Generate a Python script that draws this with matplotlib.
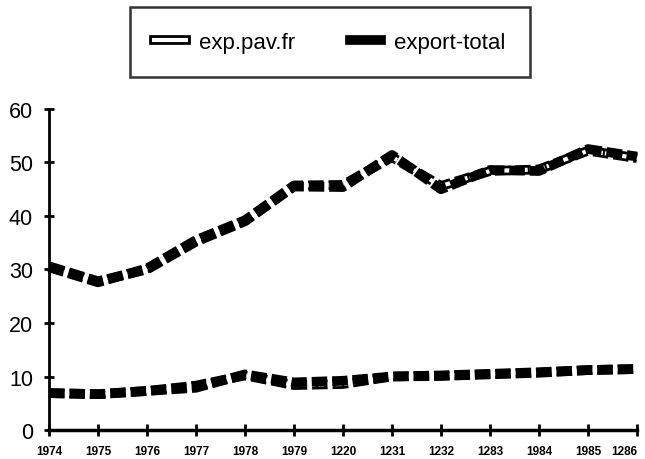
import matplotlib
matplotlib.use("Agg")
import matplotlib.pyplot as plt
from matplotlib.lines import Line2D

plt.rcParams['font.family'] = ['Liberation Sans', 'DejaVu Sans']

# data
years = [1974, 1975, 1976, 1977, 1978, 1979, 1980, 1981, 1982, 1983, 1984, 1985, 1986]
year_labels = ['1974', '1975', '1976', '1977', '1978', '1979', '1220',
               '1231', '1232', '1283', '1984', '1985', '1286']

# upper pair
export_total_hi = [30.6, 27.8, 30.0, 35.2, 39.0, 45.5, 45.4, 51.4, 45.0, 48.6, 48.4, 52.5, 51.1]
exp_pav_hi = [30.4, 27.6, 30.2, 35.5, 39.2, 45.7, 45.8, 51.0, 45.6, 48.4, 48.7, 52.2, 50.8]
# lower pair
export_total_lo = [6.9, 6.7, 7.3, 7.9, 10.4, 8.9, 9.2, 10.0, 10.1, 10.4, 10.7, 11.2, 11.4]
exp_pav_lo = [6.9, 6.7, 7.3, 8.3, 10.2, 8.4, 8.6, 10.0, 10.2, 10.5, 10.8, 11.2, 11.4]

fig = plt.figure(figsize=(6.45, 4.6), dpi=100)
ax = fig.add_axes([0.076, 0.063, 0.9116, 0.698])

dash = (1.6, 0.5)


def draw_open(x, y):
    # open (hatched) band: black outline with white inside
    ax.plot(x, y, color='black', lw=7, dashes=dash, dash_capstyle='butt',
            clip_on=False, zorder=3)
    ax.plot(x, y, color='white', lw=3, dashes=dash, dash_capstyle='butt',
            clip_on=False, zorder=3.1)


def draw_dark(x, y):
    ax.plot(x, y, color='black', lw=7, dashes=dash, dash_capstyle='butt',
            clip_on=False, zorder=4)


for ys in (exp_pav_hi, exp_pav_lo):
    draw_open(years, ys)
for ys in (export_total_hi, export_total_lo):
    draw_dark(years, ys)

ax.set_xlim(1974, 1986)
ax.set_ylim(0, 60)
ax.set_xticks(years)
ax.set_xticklabels(year_labels, fontsize=8.5, fontweight='bold')
ax.get_xticklabels()[-1].set_horizontalalignment('right')
ax.set_yticks([0, 10, 20, 30, 40, 50, 60])
ax.tick_params(axis='y', labelsize=15.5, direction='inout', length=7, width=2, pad=8)
ax.tick_params(axis='x', direction='inout', length=9, width=2, pad=6)

for s in ('top', 'right'):
    ax.spines[s].set_visible(False)
ax.spines['left'].set_linewidth(2)
ax.spines['bottom'].set_linewidth(2.5)

# legend
handles = [
    (Line2D([], [], color='black', lw=7), Line2D([], [], color='white', lw=3)),
    Line2D([], [], color='black', lw=7),
]
leg = fig.legend(handles, ['exp.pav.fr', 'export-total'], loc='center',
                 bbox_to_anchor=(0.2016, 0.830, 0.62, 0.153), mode='expand',
                 ncol=2, fontsize=16, frameon=True, fancybox=False,
                 edgecolor='black', handlelength=1.4, handletextpad=0.6,
                 borderpad=1.1, borderaxespad=0)
leg.get_frame().set_linewidth(1.8)

fig.savefig('out.png', dpi=100)
